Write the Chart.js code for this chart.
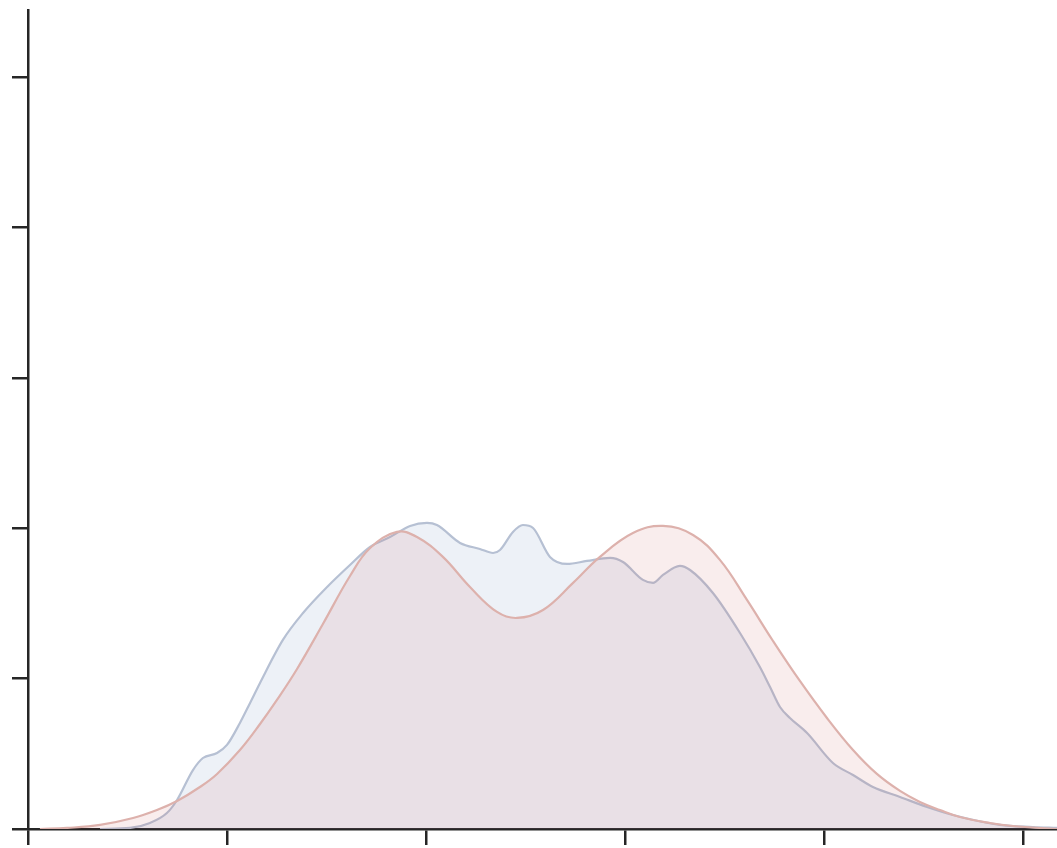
<!DOCTYPE html>
<html>
<head>
<meta charset="utf-8">
<script src="https://cdn.jsdelivr.net/npm/chart.js@4/dist/chart.umd.min.js"></script>
<style>
  html, body { margin: 0; padding: 0; background: #ffffff; }
  #wrap { width: 1057px; height: 848px; }
</style>
</head>
<body>
<div id="wrap"><canvas id="c" width="1057" height="848"></canvas></div>
<script>
// Density estimates for the two groups (x, density)
const groupAX = [0.362, 0.513, 0.613, 0.698, 0.749, 0.829, 0.879, 0.950, 1.000, 1.065, 1.116, 1.166, 1.281, 1.382, 1.503, 1.618, 1.719, 1.819, 1.920, 2.005, 2.055, 2.171, 2.271, 2.337, 2.372, 2.437, 2.487, 2.538, 2.623, 2.709, 2.809, 2.925, 2.990, 3.090, 3.141, 3.191, 3.276, 3.327, 3.442, 3.578, 3.678, 3.729, 3.779, 3.829, 3.915, 4.045, 4.146, 4.246, 4.382, 4.518, 4.648, 4.884, 5.050, 5.171];
const groupAY = [0.000, 0.007, 0.040, 0.106, 0.193, 0.392, 0.472, 0.505, 0.559, 0.705, 0.838, 0.971, 1.257, 1.436, 1.609, 1.755, 1.875, 1.941, 2.015, 2.035, 2.021, 1.902, 1.862, 1.835, 1.855, 1.975, 2.021, 2.001, 1.809, 1.762, 1.782, 1.802, 1.775, 1.656, 1.636, 1.689, 1.749, 1.722, 1.569, 1.303, 1.077, 0.944, 0.811, 0.738, 0.638, 0.439, 0.359, 0.279, 0.213, 0.146, 0.093, 0.027, 0.013, 0.007];

const groupBX = [0.060, 0.196, 0.362, 0.528, 0.648, 0.749, 0.864, 0.950, 1.065, 1.166, 1.251, 1.352, 1.482, 1.618, 1.719, 1.854, 1.955, 2.085, 2.221, 2.357, 2.457, 2.588, 2.739, 2.874, 3.040, 3.191, 3.342, 3.477, 3.613, 3.744, 3.879, 4.015, 4.146, 4.266, 4.382, 4.482, 4.583, 4.683, 4.834, 4.950, 5.171];
const groupBY = [0.000, 0.007, 0.027, 0.073, 0.126, 0.186, 0.279, 0.366, 0.525, 0.698, 0.858, 1.064, 1.363, 1.682, 1.868, 1.975, 1.941, 1.809, 1.609, 1.443, 1.403, 1.456, 1.636, 1.809, 1.968, 2.015, 1.955, 1.789, 1.523, 1.250, 0.984, 0.738, 0.525, 0.366, 0.253, 0.180, 0.126, 0.080, 0.040, 0.020, 0.000];

// Axis tick positions (labels are hidden)
const xTicks = [0, 1, 2, 3, 4, 5];
const yTicks = [0, 1, 2, 3, 4, 5];
const xRange = [0, 5.171];
const yRange = [0, 5.445];

const toPoints = (xs, ys) => xs.map((x, i) => ({ x: x, y: ys[i] }));

const axisColor = '#262626';

new Chart(document.getElementById('c'), {
  type: 'line',
  data: {
    datasets: [
      {
        label: 'B',
        data: toPoints(groupBX, groupBY),
        borderColor: '#ddb1ac',
        backgroundColor: 'rgba(196, 78, 82, 0.10)',
        borderWidth: 2.2,
        fill: 'origin',
        tension: 0.4,
        pointRadius: 0
      },
      {
        label: 'A',
        data: toPoints(groupAX, groupAY),
        borderColor: '#b6c0d3',
        backgroundColor: 'rgba(76, 114, 176, 0.10)',
        borderWidth: 2.2,
        fill: 'origin',
        cubicInterpolationMode: 'monotone',
        pointRadius: 0
      }
    ]
  },
  options: {
    responsive: false,
    animation: false,
    layout: { padding: { left: 12, top: 10, right: 0, bottom: 3 } },
    plugins: {
      legend: { display: false },
      tooltip: { enabled: false },
      title: { display: false }
    },
    scales: {
      x: {
        type: 'linear',
        min: xRange[0],
        max: xRange[1],
        afterBuildTicks: (s) => { s.ticks = xTicks.map(v => ({ value: v })); },
        ticks: { display: false },
        grid: {
          drawOnChartArea: false,
          drawTicks: true,
          tickLength: 16,
          color: axisColor,
          lineWidth: 2.5
        },
        border: { display: true, color: axisColor, width: 2.5 }
      },
      y: {
        type: 'linear',
        min: yRange[0],
        max: yRange[1],
        afterBuildTicks: (s) => { s.ticks = yTicks.map(v => ({ value: v })); },
        ticks: { display: false },
        grid: {
          drawOnChartArea: false,
          drawTicks: true,
          tickLength: 16,
          color: axisColor,
          lineWidth: 2.5
        },
        border: { display: true, color: axisColor, width: 2.5 }
      }
    }
  }
});
</script>
</body>
</html>
